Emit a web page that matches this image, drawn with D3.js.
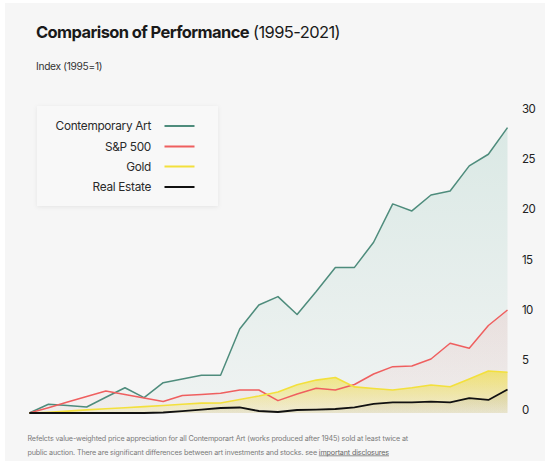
<!DOCTYPE html>
<html>
<head>
<meta charset="utf-8">
<script src="https://cdn.jsdelivr.net/npm/d3@7"></script>
<style>
  html, body { margin: 0; padding: 0; background: #ffffff; }
  svg { display: block; font-family: Inter, "Noto Sans", sans-serif; }
</style>
</head>
<body>
<svg id="chart" width="545" height="464"></svg>
<script>
// ---- data ----
const years = d3.range(1995, 2021).map(String);
const art = [0, 0.87, 0.74, 0.6, 1.57, 2.52, 1.53, 3.02, 3.39, 3.76, 3.76, 8.37, 10.77, 11.6, 9.82, 12.11, 14.51, 14.51, 17.02, 20.84, 20.14, 21.73, 22.13, 24.63, 25.79, 28.44];
const sp500 = [0, 0.53, 1.09, 1.64, 2.19, 1.84, 1.5, 1.15, 1.74, 1.84, 1.96, 2.29, 2.29, 1.23, 1.89, 2.46, 2.29, 2.84, 3.89, 4.62, 4.69, 5.38, 6.95, 6.45, 8.72, 10.27];
const gold = [0, 0.08, 0.19, 0.31, 0.42, 0.53, 0.64, 0.75, 0.87, 0.98, 1.0, 1.35, 1.69, 2.09, 2.81, 3.28, 3.54, 2.6, 2.44, 2.3, 2.52, 2.79, 2.62, 3.39, 4.19, 4.06];
const realEstate = [0, 0, 0, 0, 0, 0, 0, 0.05, 0.19, 0.34, 0.5, 0.55, 0.2, 0.1, 0.3, 0.33, 0.4, 0.57, 0.9, 1.05, 1.05, 1.13, 1.05, 1.48, 1.3, 2.34];
const seriesNames = ["Contemporary Art", "S&P 500", "Gold", "Real Estate"];
const seriesColors = ["#4e8c7c", "#ef5f5f", "#f3e03c", "#111111"];
const yTicks = [0, 5, 10, 15, 20, 25, 30];

const series = [art, sp500, gold, realEstate];

const svg = d3.select("#chart");

// card background
svg.append("rect").attr("x", 5).attr("y", 3).attr("width", 540).attr("height", 458).attr("fill", "#f6f6f6");

const defs = svg.append("defs");
const fillSpecs = [
  { top: "#55a892", topOp: 0.17, botOp: 0.04 },
  { top: "#ef6a6a", topOp: 0.12, botOp: 0.04 },
  { top: "#f1dc2a", topOp: 0.6, botOp: 0.12 },
  { top: "#6e6a55", topOp: 0.14, botOp: 0.06 }
];
fillSpecs.forEach((f, i) => {
  const g = defs.append("linearGradient").attr("id", "grad" + i)
    .attr("x1", 0).attr("y1", 0).attr("x2", 0).attr("y2", 1);
  g.append("stop").attr("offset", "0%").attr("stop-color", f.top).attr("stop-opacity", f.topOp);
  g.append("stop").attr("offset", "100%").attr("stop-color", f.top).attr("stop-opacity", f.botOp);
});
const sh = defs.append("filter").attr("id", "shadow").attr("x", "-10%").attr("y", "-10%").attr("width", "120%").attr("height", "130%");
sh.append("feDropShadow").attr("dx", 0).attr("dy", 1).attr("stdDeviation", 2).attr("flood-color", "#000").attr("flood-opacity", 0.07);

// scales
const x = d3.scalePoint().domain(years).range([29.3, 507.5]);
const y = d3.scaleLinear().domain([0, 30]).range([413, 112]);

const area = d3.area().x((d, i) => x(years[i])).y0(y(0)).y1(d => y(d));
const line = d3.line().x((d, i) => x(years[i])).y(d => y(d));

const plot = svg.append("g");
series.forEach((s, i) => {
  plot.append("path").datum(s).attr("d", area).attr("fill", `url(#grad${i})`);
});
const widths = [1.5, 1.5, 1.6, 1.8];
series.forEach((s, i) => {
  plot.append("path").datum(s).attr("d", line).attr("fill", "none")
    .attr("stroke", seriesColors[i]).attr("stroke-width", widths[i]).attr("stroke-linejoin", "round");
});

// y axis on right
const yAxis = d3.axisRight(y).tickValues(yTicks).tickSize(0).tickPadding(7).tickFormat(d3.format("d"));
const ag = svg.append("g").attr("transform", "translate(515,0)").call(yAxis);
ag.select(".domain").remove();
ag.selectAll("text").attr("font-family", "Inter, sans-serif").attr("font-size", 11.5)
  .attr("letter-spacing", "-0.6").attr("fill", "#222").attr("dy", "0.05em");

// title
const title = svg.append("text").attr("x", 36).attr("y", 37.5).attr("fill", "#1a1a1a").attr("font-size", 16.5).attr("letter-spacing", "-0.6");
title.append("tspan").attr("font-weight", 700).text("Comparison of Performance");
title.append("tspan").attr("font-weight", 400).text(" (1995-2021)");
svg.append("text").attr("x", 36).attr("y", 70).attr("font-size", 10.2).attr("letter-spacing", "-0.3").attr("fill", "#333").text("Index (1995=1)");

// legend
const lg = svg.append("g");
lg.append("rect").attr("x", 37).attr("y", 106).attr("width", 181).attr("height", 100).attr("fill", "#f8f8f8").attr("filter", "url(#shadow)");
const rowsY = [126, 146.5, 166.5, 187];
seriesNames.forEach((n, i) => {
  lg.append("text").attr("x", 151).attr("y", rowsY[i]).attr("dy", "0.35em").attr("text-anchor", "end")
    .attr("font-size", 11.8).attr("letter-spacing", "-0.3").attr("fill", "#2a2a2a").text(n);
  lg.append("line").attr("x1", 164.5).attr("x2", 194.5).attr("y1", rowsY[i]).attr("y2", rowsY[i])
    .attr("stroke", seriesColors[i]).attr("stroke-width", 2);
});

// footnote
const foot = svg.append("g").attr("font-size", 7.2).attr("fill", "#7a7a7a").attr("letter-spacing", "-0.15");
foot.append("text").attr("x", 27.5).attr("y", 441).text("Refelcts value-weighted price appreciation for all Contemporart Art (works produced after 1945) sold at least twice at");
const f2 = foot.append("text").attr("x", 27.5).attr("y", 454.5);
f2.append("tspan").text("public auction. There are significant differences between art investments and stocks. see ");
f2.append("tspan").attr("text-decoration", "underline").attr("fill", "#666").text("important disclosures");
</script>
</body>
</html>
